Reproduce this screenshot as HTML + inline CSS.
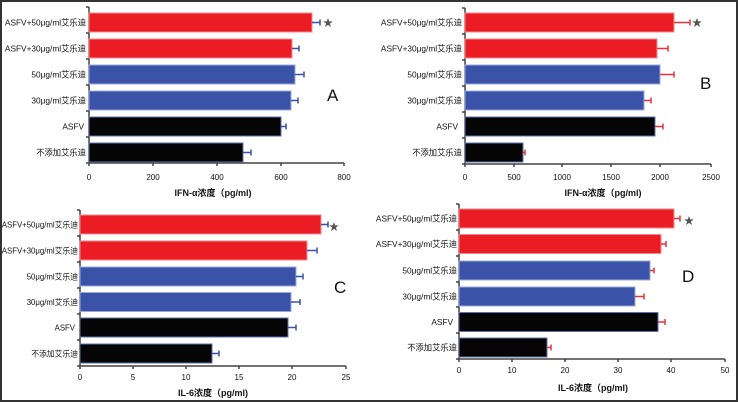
<!DOCTYPE html>
<html><head><meta charset="utf-8"><style>
html,body{margin:0;padding:0;background:#fff;}
svg{display:block;}
text{font-family:"Liberation Sans","Noto Sans CJK SC",sans-serif;fill:#111;}
.lb{font-size:8.3px;text-anchor:end;}
.lc{font-size:7.8px;text-anchor:end;}
.tk{font-size:8px;text-anchor:middle;}
.tt{font-size:9px;font-weight:bold;text-anchor:middle;}
.big{font-size:17px;}
.ax{stroke:#444;stroke-width:1.5;fill:none;}
.r{fill:#ec1c24;stroke:#f58a8f;stroke-width:1;}
.b{fill:#3a52a8;stroke:#9aa8d8;stroke-width:1;}
.k{fill:#050505;stroke:#6070b0;stroke-width:1;}
.eb{stroke:#3c50a8;stroke-width:1.5;fill:none;}
.er{stroke:#e8333a;stroke-width:1.5;fill:none;}
.st{fill:#555;}
</style></head><body>
<svg width="738" height="402" viewBox="0 0 738 402" xmlns="http://www.w3.org/2000/svg">
<rect x="0" y="0" width="738" height="402" fill="#fff"/>
<rect x="1" y="1" width="736" height="400" fill="none" stroke="#333" stroke-width="2"/>

<!-- Panel A -->
<g>
<path class="ax" d="M89 7 V163 H344"/>
<path class="ax" d="M86 7H89M86 33H89M86 59H89M86 85H89M86 111H89M86 137H89M86 163H89"/>
<path class="ax" d="M89 163v3M153 163v3M217 163v3M281 163v3M344 163v3"/>
<rect class="r" x="89" y="13" width="223" height="19"/>
<rect class="r" x="89" y="39" width="203" height="19"/>
<rect class="b" x="89" y="65" width="206" height="19"/>
<rect class="b" x="89" y="91" width="202" height="19"/>
<rect class="k" x="89" y="117" width="192" height="19"/>
<rect class="k" x="89" y="143" width="154" height="19"/>
<path class="eb" d="M312 22.5H320M320 19.5v6M292 48.5H299M299 45.5v6M295 74.5H304M304 71.5v6M291 100.5H298M298 97.5v6M281 126.5H286M286 123.5v6M243 152.5H251M251 149.5v6"/>
<polygon class="st" points="328,18 329.2,21.4 332.8,21.4 329.9,23.5 331,27 328,24.9 325,27 326.1,23.5 323.2,21.4 326.8,21.4"/>
<text class="lb" x="86" y="25.5">ASFV+50μg/ml艾乐迪</text>
<text class="lb" x="86" y="51.5">ASFV+30μg/ml艾乐迪</text>
<text class="lb" x="86" y="77.5">50μg/ml艾乐迪</text>
<text class="lb" x="86" y="103.5">30μg/ml艾乐迪</text>
<text class="lb" x="84" y="129.5">ASFV</text>
<text class="lb" x="86" y="155.5">不添加艾乐迪</text>
<text class="tk" x="89" y="180">0</text>
<text class="tk" x="153" y="180">200</text>
<text class="tk" x="217" y="180">400</text>
<text class="tk" x="281" y="180">600</text>
<text class="tk" x="344" y="180">800</text>
<text class="tt" x="213" y="196">IFN-α浓度（pg/ml)</text>
<text class="big" x="327" y="101">A</text>
</g>

<!-- Panel B -->
<g>
<path class="ax" d="M465 8 V164 H711"/>
<path class="ax" d="M462 8H465M462 34H465M462 60H465M462 86H465M462 112H465M462 138H465M462 164H465"/>
<path class="ax" d="M465 164v3M514 164v3M562 164v3M611 164v3M660 164v3M711 164v3"/>
<rect class="r" x="465" y="13" width="209" height="19"/>
<rect class="r" x="465" y="39" width="192" height="19"/>
<rect class="b" x="465" y="65" width="195" height="19"/>
<rect class="b" x="465" y="91" width="179" height="19"/>
<rect class="k" x="465" y="117" width="190" height="19"/>
<rect class="k" x="465" y="143" width="58" height="19"/>
<path class="er" d="M674 22.5H690M690 19.5v6M657 48.5H668M668 45.5v6M660 74.5H674M674 71.5v6M644 100.5H651M651 97.5v6M655 126.5H663M663 123.5v6M523 152.5H525M525 149.5v6"/>
<polygon class="st" points="697,18 698.2,21.4 701.8,21.4 698.9,23.5 700,27 697,24.9 694,27 695.1,23.5 692.2,21.4 695.8,21.4"/>
<text class="lb" x="462" y="25.5">ASFV+50μg/ml艾乐迪</text>
<text class="lb" x="462" y="51.5">ASFV+30μg/ml艾乐迪</text>
<text class="lb" x="462" y="77.5">50μg/ml艾乐迪</text>
<text class="lb" x="462" y="103.5">30μg/ml艾乐迪</text>
<text class="lb" x="458" y="129.5">ASFV</text>
<text class="lb" x="462" y="155.5">不添加艾乐迪</text>
<text class="tk" x="465" y="180">0</text>
<text class="tk" x="514" y="180">500</text>
<text class="tk" x="562" y="180">1000</text>
<text class="tk" x="611" y="180">1500</text>
<text class="tk" x="660" y="180">2000</text>
<text class="tk" x="711" y="180">2500</text>
<text class="tt" x="603" y="196">IFN-α浓度（pg/ml)</text>
<text class="big" x="700" y="89">B</text>
</g>

<!-- Panel C -->
<g>
<path class="ax" d="M80 210 V366 H346"/>
<path class="ax" d="M77 210H80M77 236H80M77 262H80M77 288H80M77 314H80M77 340H80M77 366H80"/>
<path class="ax" d="M80 366v3M133 366v3M186 366v3M239 366v3M292 366v3M346 366v3"/>
<rect class="r" x="80" y="215" width="241" height="19"/>
<rect class="r" x="80" y="241" width="227" height="19"/>
<rect class="b" x="80" y="267" width="216" height="19"/>
<rect class="b" x="80" y="292.5" width="211" height="19"/>
<rect class="k" x="80" y="318" width="208" height="19"/>
<rect class="k" x="80" y="344" width="132" height="19"/>
<path class="eb" d="M321 224.5H328M328 221.5v6M307 250.5H317M317 247.5v6M296 276.5H303M303 273.5v6M291 302H300M300 299v6M288 327.5H296M296 324.5v6M212 353.5H219M219 350.5v6"/>
<polygon class="st" points="334,222 335.2,225.4 338.8,225.4 335.9,227.5 337,231 334,228.9 331,231 332.1,227.5 329.2,225.4 332.8,225.4"/>
<text class="lc" x="78" y="227.5">ASFV+50μg/ml艾乐迪</text>
<text class="lc" x="78" y="253.5">ASFV+30μg/ml艾乐迪</text>
<text class="lc" x="78" y="279.5">50μg/ml艾乐迪</text>
<text class="lc" x="78" y="305">30μg/ml艾乐迪</text>
<text class="lc" x="75" y="330.5">ASFV</text>
<text class="lc" x="78" y="356.5">不添加艾乐迪</text>
<text class="tk" x="80" y="380">0</text>
<text class="tk" x="133" y="380">5</text>
<text class="tk" x="186" y="380">10</text>
<text class="tk" x="239" y="380">15</text>
<text class="tk" x="292" y="380">20</text>
<text class="tk" x="346" y="380">25</text>
<text class="tt" x="213" y="396">IL-6浓度（pg/ml)</text>
<text class="big" x="334" y="293">C</text>
</g>

<!-- Panel D -->
<g>
<path class="ax" d="M459 204 V359 H725"/>
<path class="ax" d="M456 204H459M456 230H459M456 256H459M456 282H459M456 307H459M456 333H459M456 359H459"/>
<path class="ax" d="M459 359v3M512 359v3M565 359v3M618 359v3M671 359v3M725 359v3"/>
<rect class="r" x="459" y="209" width="215" height="19"/>
<rect class="r" x="459" y="234.5" width="202" height="19"/>
<rect class="b" x="459" y="261" width="191" height="19"/>
<rect class="b" x="459" y="287" width="176" height="19"/>
<rect class="k" x="459" y="312.5" width="199" height="19"/>
<rect class="k" x="459" y="338" width="88" height="19"/>
<path class="er" d="M674 218.5H680M680 215.5v6M661 244H666M666 241v6M650 270.5H654M654 267.5v6M635 296.5H644M644 293.5v6M658 322H665M665 319v6M547 347.5H551M551 344.5v6"/>
<polygon class="st" points="689,216 690.2,219.4 693.8,219.4 690.9,221.5 692,225 689,222.9 686,225 687.1,221.5 684.2,219.4 687.8,219.4"/>
<text class="lb" x="457" y="221.5">ASFV+50μg/ml艾乐迪</text>
<text class="lb" x="457" y="247">ASFV+30μg/ml艾乐迪</text>
<text class="lb" x="457" y="273.5">50μg/ml艾乐迪</text>
<text class="lb" x="457" y="299.5">30μg/ml艾乐迪</text>
<text class="lb" x="453" y="325">ASFV</text>
<text class="lb" x="457" y="350.5">不添加艾乐迪</text>
<text class="tk" x="459" y="373">0</text>
<text class="tk" x="512" y="373">10</text>
<text class="tk" x="565" y="373">20</text>
<text class="tk" x="618" y="373">30</text>
<text class="tk" x="671" y="373">40</text>
<text class="tk" x="725" y="373">50</text>
<text class="tt" x="593" y="391">IL-6浓度（pg/ml)</text>
<text class="big" x="682" y="282">D</text>
</g>
</svg>
</body></html>
